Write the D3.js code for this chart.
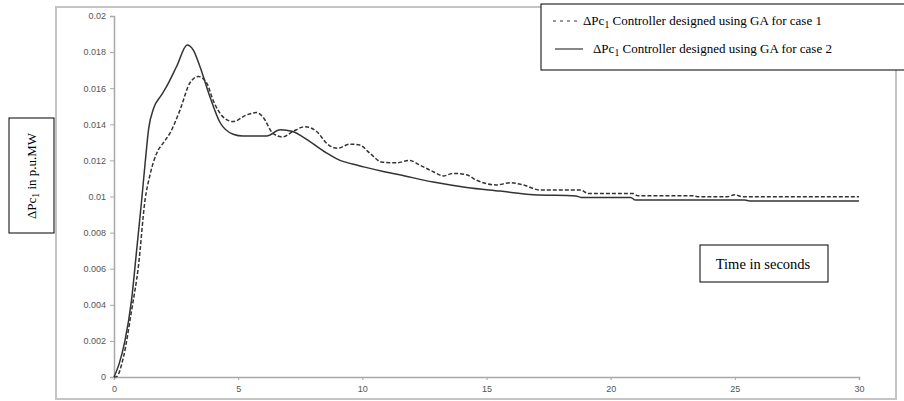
<!DOCTYPE html>
<html>
<head>
<meta charset="utf-8">
<script src="https://cdn.jsdelivr.net/npm/d3@7"></script>
<style>
  body { margin: 0; background: #fff; }
  svg { display: block; }
  .serif { font-family: "Liberation Serif", "Times New Roman", Times, serif; }
</style>
</head>
<body>
<svg width="904" height="401"></svg>
<script>
// case 1 (dashed)
const time1 = [0, 0.1, 0.38, 0.71, 0.98, 1.25, 1.45, 1.72, 2.0, 2.25, 2.66, 3.06, 3.4, 3.73, 4.0, 4.4, 4.8, 5.34, 5.74, 6.0, 6.4, 6.8, 7.2, 7.7, 8.16, 8.6, 9.0, 9.5, 9.9, 10.3, 10.8, 11.4, 11.9, 12.3, 12.86, 13.26, 13.66, 14.2, 14.6, 15.4, 15.95, 16.48, 17.16, 18.8, 19.1, 20.9, 21.1, 23.3, 23.5, 24.7, 25.0, 25.3, 30];
const case1 = [0, 0.00002, 0.0011, 0.0037, 0.0061, 0.0098, 0.0112, 0.0124, 0.0130, 0.0135, 0.0148, 0.0163, 0.01665, 0.0163, 0.0153, 0.0144, 0.01415, 0.01452, 0.01465, 0.0144, 0.0135, 0.0133, 0.0136, 0.01387, 0.0136, 0.0129, 0.01267, 0.0129, 0.01285, 0.0124, 0.0119, 0.01187, 0.0120, 0.01175, 0.01137, 0.01114, 0.01128, 0.0112, 0.0109, 0.01064, 0.01076, 0.01064, 0.01036, 0.01036, 0.01016, 0.01016, 0.01004, 0.01004, 0.00999, 0.00999, 0.0101, 0.00999, 0.00999];

// case 2 (solid)
const time2 = [0, 0.2, 0.44, 0.71, 0.91, 1.1, 1.25, 1.4, 1.6, 1.9, 2.12, 2.52, 2.95, 3.2, 3.46, 3.87, 4.27, 4.8, 5.2, 6.15, 6.69, 7.2, 7.6, 8.57, 9.1, 9.6, 10.18, 10.8, 11.5, 12.86, 14.2, 15.55, 16.9, 18.6, 18.8, 20.8, 21.0, 25.4, 25.6, 30];
const case2 = [0, 0.0007, 0.002, 0.0043, 0.0070, 0.0096, 0.0118, 0.0138, 0.0149, 0.0156, 0.0161, 0.0172, 0.0184, 0.0181, 0.0172, 0.0155, 0.0141, 0.01345, 0.01335, 0.01335, 0.0137, 0.0136, 0.0133, 0.0124, 0.0120, 0.0118, 0.0116, 0.0114, 0.0112, 0.0108, 0.0105, 0.0103, 0.0101, 0.01003, 0.00995, 0.00995, 0.0098, 0.0098, 0.00975, 0.00975];

const xTicks = [0, 5, 10, 15, 20, 25, 30];
const yTicks = [0, 0.002, 0.004, 0.006, 0.008, 0.01, 0.012, 0.014, 0.016, 0.018, 0.02];
const yTickLabels = ["0", "0.002", "0.004", "0.006", "0.008", "0.01", "0.012", "0.014", "0.016", "0.018", "0.02"];
const legendLabels = ["Controller designed using GA  for case 1", "Controller designed using GA for case 2"];

const svg = d3.select("svg");

const x = d3.scaleLinear().domain([0, 30]).range([114, 859]);
const y = d3.scaleLinear().domain([0, 0.02]).range([377, 16]);

// grey outer frame
svg.append("rect")
  .attr("x", 56).attr("y", 7)
  .attr("width", 840).attr("height", 392)
  .attr("fill", "none")
  .attr("stroke", "#c4c4c4")
  .attr("stroke-width", 2);

// axes
const xAxis = svg.append("g")
  .attr("transform", `translate(0,${y(0)})`)
  .call(d3.axisBottom(x).tickValues(xTicks).tickSize(3).tickPadding(6).tickFormat(d3.format("d")));
const yAxis = svg.append("g")
  .attr("transform", `translate(${x(0)},0)`)
  .call(d3.axisLeft(y).tickValues(yTicks).tickSize(4).tickPadding(4).tickFormat((d, i) => yTickLabels[i]));

[xAxis, yAxis].forEach(a => {
  a.select(".domain").attr("stroke", "#a8a8a8").attr("stroke-width", 1.5);
  a.selectAll(".tick line").attr("stroke", "#a8a8a8");
  a.selectAll("text")
    .attr("fill", "#555")
    .attr("font-family", "'Liberation Sans', Arial, sans-serif")
    .attr("font-size", 9);
});

// curves
const line = d3.line()
  .x(d => x(d[0]))
  .y(d => y(d[1]))
  .curve(d3.curveMonotoneX);

svg.append("path")
  .datum(time1.map((t, i) => [t, case1[i]]))
  .attr("d", line)
  .attr("fill", "none")
  .attr("stroke", "#333")
  .attr("stroke-width", 1.5)
  .attr("stroke-dasharray", "4,2");

svg.append("path")
  .datum(time2.map((t, i) => [t, case2[i]]))
  .attr("d", line)
  .attr("fill", "none")
  .attr("stroke", "#333")
  .attr("stroke-width", 1.5);

function deltaLabel(sel, rest) {
  sel.append("tspan").text("ΔPc");
  sel.append("tspan").attr("dy", 3).attr("font-size", "0.75em").text("1");
  sel.append("tspan").attr("dy", -3).text(" " + rest);
}

// legend
const legend = svg.append("g");
legend.append("rect")
  .attr("x", 541).attr("y", 4)
  .attr("width", 380).attr("height", 66)
  .attr("fill", "#fff")
  .attr("stroke", "#000")
  .attr("stroke-width", 1);

legend.append("line")
  .attr("x1", 553).attr("x2", 580)
  .attr("y1", 21).attr("y2", 21)
  .attr("stroke", "#333").attr("stroke-width", 1)
  .attr("stroke-dasharray", "3,4");
legend.append("text")
  .attr("class", "serif")
  .attr("x", 583).attr("y", 25)
  .attr("font-size", 13)
  .call(deltaLabel, legendLabels[0]);

legend.append("line")
  .attr("x1", 555).attr("x2", 583)
  .attr("y1", 49).attr("y2", 49)
  .attr("stroke", "#111").attr("stroke-width", 1);
legend.append("text")
  .attr("class", "serif")
  .attr("x", 593).attr("y", 53)
  .attr("font-size", 13)
  .call(deltaLabel, legendLabels[1]);

// y axis title box
svg.append("rect")
  .attr("x", 9).attr("y", 118)
  .attr("width", 45).attr("height", 115)
  .attr("fill", "#fff").attr("stroke", "#000");
svg.append("text")
  .attr("class", "serif")
  .attr("transform", "translate(36,176) rotate(-90)")
  .attr("text-anchor", "middle")
  .attr("font-size", 13)
  .call(deltaLabel, "in p.u.MW");

// x axis title box
svg.append("rect")
  .attr("x", 700).attr("y", 245)
  .attr("width", 128).attr("height", 37)
  .attr("fill", "#fff").attr("stroke", "#000");
svg.append("text")
  .attr("class", "serif")
  .attr("x", 763).attr("y", 269)
  .attr("text-anchor", "middle")
  .attr("font-size", 14.5)
  .text("Time in seconds");
</script>
</body>
</html>
